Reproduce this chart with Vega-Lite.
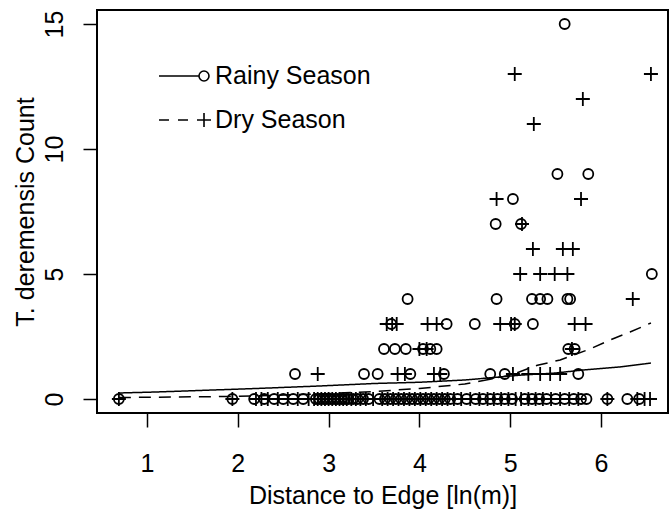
{
  "$schema": "https://vega.github.io/schema/vega-lite/v6.json",
  "width": 571,
  "height": 403,
  "autosize": "none",
  "padding": {"left": 97, "top": 10, "right": 1, "bottom": 101},
  "background": "white",
  "config": {
    "view": {"stroke": "black", "strokeWidth": 2},
    "axis": {
      "labelFont": "Liberation Sans",
      "labelFontSize": 25,
      "labelColor": "black",
      "titleFont": "Liberation Sans",
      "titleFontSize": 25,
      "titleFontWeight": "normal",
      "titleColor": "black",
      "tickColor": "black",
      "tickWidth": 1.5,
      "tickSize": 14,
      "domain": false,
      "grid": false,
      "labelFlush": false,
      "labelOverlap": false
    }
  },
  "resolve": {"scale": {"shape": "independent"}, "legend": {"shape": "independent"}},
  "datasets": {
    "pts": [
      {"season": "Rainy Season", "dist": 5.60, "count": 15},
      {"season": "Rainy Season", "dist": 5.52, "count": 9},
      {"season": "Rainy Season", "dist": 5.86, "count": 9},
      {"season": "Rainy Season", "dist": 5.03, "count": 8},
      {"season": "Rainy Season", "dist": 4.84, "count": 7},
      {"season": "Rainy Season", "dist": 5.12, "count": 7},
      {"season": "Rainy Season", "dist": 6.56, "count": 5},
      {"season": "Rainy Season", "dist": 3.87, "count": 4},
      {"season": "Rainy Season", "dist": 4.85, "count": 4},
      {"season": "Rainy Season", "dist": 5.24, "count": 4},
      {"season": "Rainy Season", "dist": 5.33, "count": 4},
      {"season": "Rainy Season", "dist": 5.41, "count": 4},
      {"season": "Rainy Season", "dist": 5.63, "count": 4},
      {"season": "Rainy Season", "dist": 5.66, "count": 4},
      {"season": "Rainy Season", "dist": 3.69, "count": 3},
      {"season": "Rainy Season", "dist": 4.30, "count": 3},
      {"season": "Rainy Season", "dist": 4.61, "count": 3},
      {"season": "Rainy Season", "dist": 5.05, "count": 3},
      {"season": "Rainy Season", "dist": 5.25, "count": 3},
      {"season": "Rainy Season", "dist": 3.61, "count": 2},
      {"season": "Rainy Season", "dist": 3.73, "count": 2},
      {"season": "Rainy Season", "dist": 3.85, "count": 2},
      {"season": "Rainy Season", "dist": 4.04, "count": 2},
      {"season": "Rainy Season", "dist": 4.12, "count": 2},
      {"season": "Rainy Season", "dist": 4.19, "count": 2},
      {"season": "Rainy Season", "dist": 5.64, "count": 2},
      {"season": "Rainy Season", "dist": 5.71, "count": 2},
      {"season": "Rainy Season", "dist": 2.63, "count": 1},
      {"season": "Rainy Season", "dist": 3.39, "count": 1},
      {"season": "Rainy Season", "dist": 3.54, "count": 1},
      {"season": "Rainy Season", "dist": 3.90, "count": 1},
      {"season": "Rainy Season", "dist": 4.27, "count": 1},
      {"season": "Rainy Season", "dist": 4.78, "count": 1},
      {"season": "Rainy Season", "dist": 4.94, "count": 1},
      {"season": "Rainy Season", "dist": 5.75, "count": 1},
      {"season": "Rainy Season", "dist": 0.69, "count": 0},
      {"season": "Rainy Season", "dist": 1.94, "count": 0},
      {"season": "Rainy Season", "dist": 2.18, "count": 0},
      {"season": "Rainy Season", "dist": 2.29, "count": 0},
      {"season": "Rainy Season", "dist": 2.40, "count": 0},
      {"season": "Rainy Season", "dist": 2.50, "count": 0},
      {"season": "Rainy Season", "dist": 2.61, "count": 0},
      {"season": "Rainy Season", "dist": 2.72, "count": 0},
      {"season": "Rainy Season", "dist": 2.86, "count": 0},
      {"season": "Rainy Season", "dist": 2.90, "count": 0},
      {"season": "Rainy Season", "dist": 2.94, "count": 0},
      {"season": "Rainy Season", "dist": 2.98, "count": 0},
      {"season": "Rainy Season", "dist": 3.02, "count": 0},
      {"season": "Rainy Season", "dist": 3.06, "count": 0},
      {"season": "Rainy Season", "dist": 3.10, "count": 0},
      {"season": "Rainy Season", "dist": 3.14, "count": 0},
      {"season": "Rainy Season", "dist": 3.18, "count": 0},
      {"season": "Rainy Season", "dist": 3.22, "count": 0},
      {"season": "Rainy Season", "dist": 3.27, "count": 0},
      {"season": "Rainy Season", "dist": 3.32, "count": 0},
      {"season": "Rainy Season", "dist": 3.38, "count": 0},
      {"season": "Rainy Season", "dist": 3.44, "count": 0},
      {"season": "Rainy Season", "dist": 3.56, "count": 0},
      {"season": "Rainy Season", "dist": 3.62, "count": 0},
      {"season": "Rainy Season", "dist": 3.68, "count": 0},
      {"season": "Rainy Season", "dist": 3.74, "count": 0},
      {"season": "Rainy Season", "dist": 3.80, "count": 0},
      {"season": "Rainy Season", "dist": 3.86, "count": 0},
      {"season": "Rainy Season", "dist": 3.92, "count": 0},
      {"season": "Rainy Season", "dist": 3.98, "count": 0},
      {"season": "Rainy Season", "dist": 4.04, "count": 0},
      {"season": "Rainy Season", "dist": 4.10, "count": 0},
      {"season": "Rainy Season", "dist": 4.16, "count": 0},
      {"season": "Rainy Season", "dist": 4.22, "count": 0},
      {"season": "Rainy Season", "dist": 4.28, "count": 0},
      {"season": "Rainy Season", "dist": 4.34, "count": 0},
      {"season": "Rainy Season", "dist": 4.42, "count": 0},
      {"season": "Rainy Season", "dist": 4.52, "count": 0},
      {"season": "Rainy Season", "dist": 4.62, "count": 0},
      {"season": "Rainy Season", "dist": 4.70, "count": 0},
      {"season": "Rainy Season", "dist": 4.78, "count": 0},
      {"season": "Rainy Season", "dist": 4.86, "count": 0},
      {"season": "Rainy Season", "dist": 4.94, "count": 0},
      {"season": "Rainy Season", "dist": 5.02, "count": 0},
      {"season": "Rainy Season", "dist": 5.16, "count": 0},
      {"season": "Rainy Season", "dist": 5.24, "count": 0},
      {"season": "Rainy Season", "dist": 5.32, "count": 0},
      {"season": "Rainy Season", "dist": 5.40, "count": 0},
      {"season": "Rainy Season", "dist": 5.50, "count": 0},
      {"season": "Rainy Season", "dist": 5.60, "count": 0},
      {"season": "Rainy Season", "dist": 5.70, "count": 0},
      {"season": "Rainy Season", "dist": 5.78, "count": 0},
      {"season": "Rainy Season", "dist": 5.84, "count": 0},
      {"season": "Rainy Season", "dist": 6.07, "count": 0},
      {"season": "Rainy Season", "dist": 6.29, "count": 0},
      {"season": "Rainy Season", "dist": 6.42, "count": 0},
      {"season": "Dry Season", "dist": 5.05, "count": 13},
      {"season": "Dry Season", "dist": 6.55, "count": 13},
      {"season": "Dry Season", "dist": 5.80, "count": 12},
      {"season": "Dry Season", "dist": 5.26, "count": 11},
      {"season": "Dry Season", "dist": 4.85, "count": 8},
      {"season": "Dry Season", "dist": 5.78, "count": 8},
      {"season": "Dry Season", "dist": 5.13, "count": 7},
      {"season": "Dry Season", "dist": 5.25, "count": 6},
      {"season": "Dry Season", "dist": 5.58, "count": 6},
      {"season": "Dry Season", "dist": 5.69, "count": 6},
      {"season": "Dry Season", "dist": 5.11, "count": 5},
      {"season": "Dry Season", "dist": 5.33, "count": 5},
      {"season": "Dry Season", "dist": 5.49, "count": 5},
      {"season": "Dry Season", "dist": 5.63, "count": 5},
      {"season": "Dry Season", "dist": 6.35, "count": 4},
      {"season": "Dry Season", "dist": 3.64, "count": 3},
      {"season": "Dry Season", "dist": 3.70, "count": 3},
      {"season": "Dry Season", "dist": 3.75, "count": 3},
      {"season": "Dry Season", "dist": 4.09, "count": 3},
      {"season": "Dry Season", "dist": 4.19, "count": 3},
      {"season": "Dry Season", "dist": 4.89, "count": 3},
      {"season": "Dry Season", "dist": 5.01, "count": 3},
      {"season": "Dry Season", "dist": 5.05, "count": 3},
      {"season": "Dry Season", "dist": 5.71, "count": 3},
      {"season": "Dry Season", "dist": 5.83, "count": 3},
      {"season": "Dry Season", "dist": 4.00, "count": 2},
      {"season": "Dry Season", "dist": 4.08, "count": 2},
      {"season": "Dry Season", "dist": 5.68, "count": 2},
      {"season": "Dry Season", "dist": 2.88, "count": 1},
      {"season": "Dry Season", "dist": 3.76, "count": 1},
      {"season": "Dry Season", "dist": 3.84, "count": 1},
      {"season": "Dry Season", "dist": 4.16, "count": 1},
      {"season": "Dry Season", "dist": 4.23, "count": 1},
      {"season": "Dry Season", "dist": 5.03, "count": 1},
      {"season": "Dry Season", "dist": 5.20, "count": 1},
      {"season": "Dry Season", "dist": 5.33, "count": 1},
      {"season": "Dry Season", "dist": 5.44, "count": 1},
      {"season": "Dry Season", "dist": 5.55, "count": 1},
      {"season": "Dry Season", "dist": 0.69, "count": 0},
      {"season": "Dry Season", "dist": 1.94, "count": 0},
      {"season": "Dry Season", "dist": 2.20, "count": 0},
      {"season": "Dry Season", "dist": 2.26, "count": 0},
      {"season": "Dry Season", "dist": 2.33, "count": 0},
      {"season": "Dry Season", "dist": 2.44, "count": 0},
      {"season": "Dry Season", "dist": 2.55, "count": 0},
      {"season": "Dry Season", "dist": 2.66, "count": 0},
      {"season": "Dry Season", "dist": 2.78, "count": 0},
      {"season": "Dry Season", "dist": 2.84, "count": 0},
      {"season": "Dry Season", "dist": 2.88, "count": 0},
      {"season": "Dry Season", "dist": 2.92, "count": 0},
      {"season": "Dry Season", "dist": 2.96, "count": 0},
      {"season": "Dry Season", "dist": 3.00, "count": 0},
      {"season": "Dry Season", "dist": 3.04, "count": 0},
      {"season": "Dry Season", "dist": 3.08, "count": 0},
      {"season": "Dry Season", "dist": 3.12, "count": 0},
      {"season": "Dry Season", "dist": 3.16, "count": 0},
      {"season": "Dry Season", "dist": 3.20, "count": 0},
      {"season": "Dry Season", "dist": 3.25, "count": 0},
      {"season": "Dry Season", "dist": 3.30, "count": 0},
      {"season": "Dry Season", "dist": 3.35, "count": 0},
      {"season": "Dry Season", "dist": 3.41, "count": 0},
      {"season": "Dry Season", "dist": 3.49, "count": 0},
      {"season": "Dry Season", "dist": 3.59, "count": 0},
      {"season": "Dry Season", "dist": 3.65, "count": 0},
      {"season": "Dry Season", "dist": 3.71, "count": 0},
      {"season": "Dry Season", "dist": 3.77, "count": 0},
      {"season": "Dry Season", "dist": 3.83, "count": 0},
      {"season": "Dry Season", "dist": 3.89, "count": 0},
      {"season": "Dry Season", "dist": 3.95, "count": 0},
      {"season": "Dry Season", "dist": 4.01, "count": 0},
      {"season": "Dry Season", "dist": 4.07, "count": 0},
      {"season": "Dry Season", "dist": 4.13, "count": 0},
      {"season": "Dry Season", "dist": 4.19, "count": 0},
      {"season": "Dry Season", "dist": 4.25, "count": 0},
      {"season": "Dry Season", "dist": 4.31, "count": 0},
      {"season": "Dry Season", "dist": 4.38, "count": 0},
      {"season": "Dry Season", "dist": 4.46, "count": 0},
      {"season": "Dry Season", "dist": 4.56, "count": 0},
      {"season": "Dry Season", "dist": 4.66, "count": 0},
      {"season": "Dry Season", "dist": 4.75, "count": 0},
      {"season": "Dry Season", "dist": 4.82, "count": 0},
      {"season": "Dry Season", "dist": 4.90, "count": 0},
      {"season": "Dry Season", "dist": 4.98, "count": 0},
      {"season": "Dry Season", "dist": 5.06, "count": 0},
      {"season": "Dry Season", "dist": 5.12, "count": 0},
      {"season": "Dry Season", "dist": 5.20, "count": 0},
      {"season": "Dry Season", "dist": 5.28, "count": 0},
      {"season": "Dry Season", "dist": 5.36, "count": 0},
      {"season": "Dry Season", "dist": 5.45, "count": 0},
      {"season": "Dry Season", "dist": 5.55, "count": 0},
      {"season": "Dry Season", "dist": 5.65, "count": 0},
      {"season": "Dry Season", "dist": 5.75, "count": 0},
      {"season": "Dry Season", "dist": 6.07, "count": 0},
      {"season": "Dry Season", "dist": 6.40, "count": 0},
      {"season": "Dry Season", "dist": 6.48, "count": 0},
      {"season": "Dry Season", "dist": 6.54, "count": 0}
    ],
    "fit": [
      {"model": "rainy", "dist": 0.69, "fitted": 0.24},
      {"model": "rainy", "dist": 1.10, "fitted": 0.28},
      {"model": "rainy", "dist": 2.20, "fitted": 0.42},
      {"model": "rainy", "dist": 2.90, "fitted": 0.52},
      {"model": "rainy", "dist": 3.50, "fitted": 0.62},
      {"model": "rainy", "dist": 4.00, "fitted": 0.67},
      {"model": "rainy", "dist": 4.50, "fitted": 0.76},
      {"model": "rainy", "dist": 5.10, "fitted": 0.95},
      {"model": "rainy", "dist": 5.50, "fitted": 1.04},
      {"model": "rainy", "dist": 5.80, "fitted": 1.16},
      {"model": "rainy", "dist": 6.20, "fitted": 1.28},
      {"model": "rainy", "dist": 6.55, "fitted": 1.44},
      {"model": "dry", "dist": 0.69, "fitted": 0.06},
      {"model": "dry", "dist": 1.94, "fitted": 0.10},
      {"model": "dry", "dist": 2.90, "fitted": 0.20},
      {"model": "dry", "dist": 3.50, "fitted": 0.30},
      {"model": "dry", "dist": 4.00, "fitted": 0.42},
      {"model": "dry", "dist": 4.50, "fitted": 0.60},
      {"model": "dry", "dist": 5.00, "fitted": 0.95},
      {"model": "dry", "dist": 5.30, "fitted": 1.35},
      {"model": "dry", "dist": 5.55, "fitted": 1.56},
      {"model": "dry", "dist": 5.88, "fitted": 2.00},
      {"model": "dry", "dist": 6.10, "fitted": 2.36},
      {"model": "dry", "dist": 6.32, "fitted": 2.68},
      {"model": "dry", "dist": 6.55, "fitted": 3.04}
    ]
  },
  "encoding": {
    "x": {
      "field": "dist",
      "type": "quantitative",
      "scale": {"domain": [0.449, 6.738], "nice": false, "zero": false},
      "axis": {
        "title": "Distance to Edge [ln(m)]",
        "values": [1, 2, 3, 4, 5, 6],
        "labelPadding": 24,
        "titleBaseline": "alphabetic",
        "titleY": 90
      }
    }
  },
  "layer": [
    {
      "data": {"name": "fit"},
      "mark": {"type": "line", "color": "black", "strokeWidth": 1.5, "clip": true},
      "encoding": {
        "y": {
          "field": "fitted",
          "type": "quantitative",
          "scale": {"domain": [-0.56, 15.56], "nice": false, "zero": false},
          "axis": {
            "title": "T. deremensis Count",
            "values": [0, 5, 10, 15],
            "labelAngle": 270,
            "labelAlign": "center",
            "labelBaseline": "alphabetic",
            "labelPadding": 21,
            "titleAngle": 270,
            "titleBaseline": "alphabetic",
            "titleX": -64
          }
        },
        "strokeDash": {
          "field": "model",
          "type": "nominal",
          "scale": {"domain": ["rainy", "dry"], "range": [[1, 0], [12, 8]]},
          "legend": null
        },
        "detail": {"field": "model"}
      }
    },
    {
      "data": {"name": "pts"},
      "mark": {"type": "point", "filled": false, "color": "black", "strokeWidth": 1.8, "size": 100, "opacity": 1},
      "encoding": {
        "y": {"field": "count", "type": "quantitative"},
        "shape": {
          "field": "season",
          "type": "nominal",
          "scale": {"domain": ["Rainy Season", "Dry Season"], "range": ["circle", "M-1.4,0H1.4M0,-1.4V1.4"]},
          "legend": null
        }
      }
    },
    {
      "data": {"name": "pts"},
      "mark": {"type": "point", "filled": false, "color": "black", "strokeWidth": 1.6, "size": 0},
      "encoding": {
        "y": {"field": "count", "type": "quantitative"},
        "shape": {
          "field": "season",
          "type": "nominal",
          "scale": {
            "domain": ["Rainy Season", "Dry Season"],
            "range": [
              "M-2.333,0H0.333M1,0A0.333,0.333,0,1,1,0.333,0A0.333,0.333,0,1,1,1,0",
              "M-2.333,0H-1.667M-1.067,0H-0.4M0.2,0H1.133M0.667,-0.467V0.467"
            ]
          },
          "legend": {
            "title": null,
            "orient": "none",
            "legendX": 81,
            "legendY": 50,
            "padding": 0,
            "rowPadding": 15,
            "labelFont": "Liberation Sans",
            "labelFontSize": 25,
            "labelColor": "black",
            "labelOffset": 5,
            "symbolSize": 900,
            "symbolStrokeWidth": 1.6,
            "symbolStrokeColor": "black",
            "symbolFillColor": "transparent",
            "symbolOpacity": 1
          }
        }
      }
    }
  ]
}
